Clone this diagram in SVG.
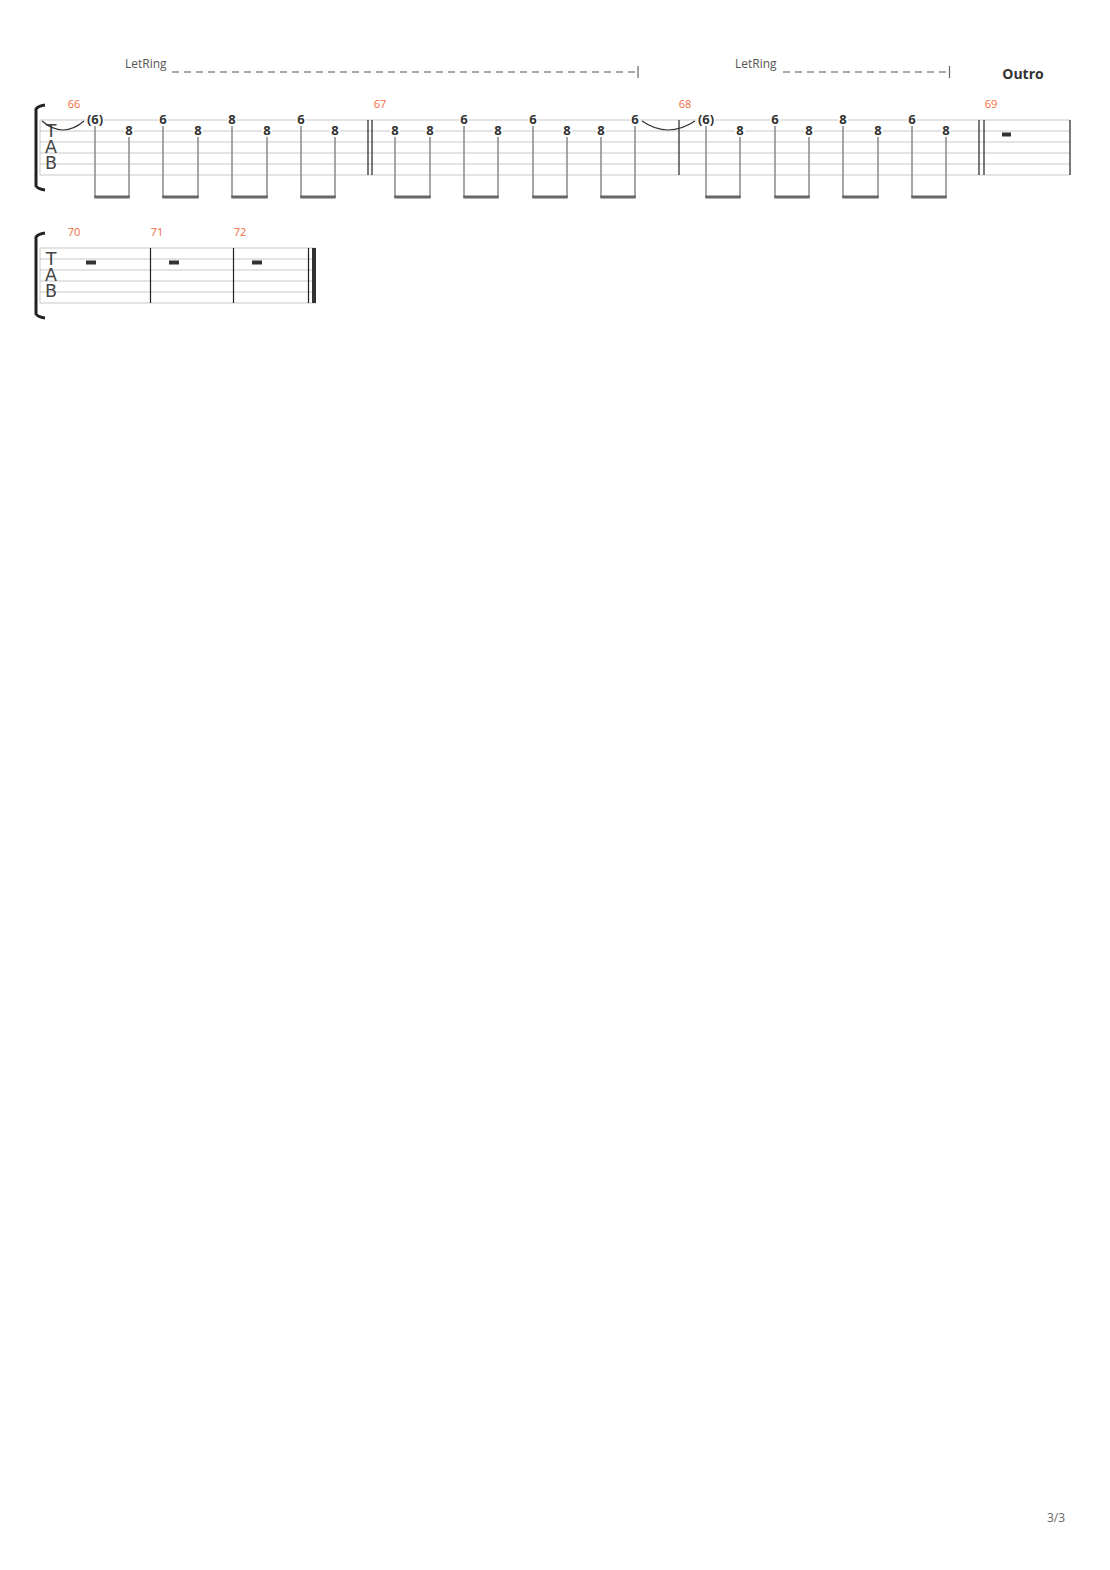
<svg xmlns="http://www.w3.org/2000/svg" width="1110" height="1570" viewBox="0 0 1110 1570">
<style>
.sl{stroke:#c8c8c8;stroke-width:1}
.bar{stroke:#222;stroke-width:1.2}
.stem{stroke:#8a8a8a;stroke-width:1.5}
.beam{fill:#666}
.n{font-family:"Open Sans","Noto Sans",sans-serif;font-weight:bold;font-size:13px;fill:#333;text-anchor:middle}
.nb{fill:#fff}
.mn{font-family:"Open Sans","Noto Sans",sans-serif;font-size:11px;fill:#f26b3a;text-anchor:middle}
.tab{font-family:"DejaVu Sans","Noto Sans",sans-serif;font-size:17.5px;fill:#444;text-anchor:middle}
.lr{font-family:"Open Sans","Noto Sans",sans-serif;font-size:12px;fill:#555}
.dash{stroke:#8c8c8c;stroke-width:1.6;stroke-dasharray:7 5;fill:none}
.tick{stroke:#666;stroke-width:1.2}
.tie{stroke:#333;stroke-width:1.2;fill:none}
.rest{fill:#333}
.brk{fill:none;stroke:#222;stroke-width:3}
</style>
<rect width="1110" height="1570" fill="#fff"/>

<g id="system1">
  <g id="staff1-lines">
    <line class="sl" x1="40" y1="120" x2="1070" y2="120"/>
    <line class="sl" x1="40" y1="131" x2="1070" y2="131"/>
    <line class="sl" x1="40" y1="142" x2="1070" y2="142"/>
    <line class="sl" x1="40" y1="153" x2="1070" y2="153"/>
    <line class="sl" x1="40" y1="164" x2="1070" y2="164"/>
    <line class="sl" x1="40" y1="175" x2="1070" y2="175"/>
    <line class="sl" x1="40" y1="120" x2="40" y2="175"/>
  </g>
  <path class="brk" d="M45,105 Q38,106 36,109 L36,186 Q38,189 45,190"/>
  <text class="tab"><tspan x="51" y="137">T</tspan><tspan x="51" y="153">A</tspan><tspan x="51" y="169">B</tspan></text>
  <line class="bar" x1="368" y1="120" x2="368" y2="175"/>
  <line class="bar" x1="372" y1="120" x2="372" y2="175"/>
  <line class="bar" x1="679" y1="120" x2="679" y2="175"/>
  <line class="bar" x1="979" y1="120" x2="979" y2="175"/>
  <line class="bar" x1="984" y1="120" x2="984" y2="175"/>
  <line class="bar" x1="1070" y1="120" x2="1070" y2="175"/>
  <text class="mn" x="74" y="108">66</text>
  <text class="mn" x="380" y="108">67</text>
  <text class="mn" x="685" y="108">68</text>
  <text class="mn" x="991" y="108">69</text>
  <text x="1023" y="79" font-family="'Open Sans','Noto Sans',sans-serif" font-weight="bold" font-size="14" fill="#333" text-anchor="middle">Outro</text>
  <text class="lr" x="125" y="68">LetRing</text>
  <line class="dash" x1="172" y1="72" x2="637" y2="72"/>
  <line class="tick" x1="638" y1="66" x2="638" y2="78"/>
  <text class="lr" x="735" y="68">LetRing</text>
  <line class="dash" x1="783" y1="72" x2="949" y2="72"/>
  <line class="tick" x1="949.5" y1="66" x2="949.5" y2="78"/>
  <rect class="rest" x="1002" y="132.5" width="9" height="4"/>
</g>

<g id="connectors">
  <path class="tie" d="M42,121 Q63,139 84,121"/>
  <path class="tie" d="M642,121 Q668,139 695,121"/>
  <g id="stems">
    <line class="stem" x1="95" y1="126" x2="95" y2="197"/>
    <line class="stem" x1="129" y1="137" x2="129" y2="197"/>
    <line class="stem" x1="163" y1="126" x2="163" y2="197"/>
    <line class="stem" x1="198" y1="137" x2="198" y2="197"/>
    <line class="stem" x1="232" y1="126" x2="232" y2="197"/>
    <line class="stem" x1="267" y1="137" x2="267" y2="197"/>
    <line class="stem" x1="301" y1="126" x2="301" y2="197"/>
    <line class="stem" x1="335" y1="137" x2="335" y2="197"/>
    <line class="stem" x1="395" y1="137" x2="395" y2="197"/>
    <line class="stem" x1="430" y1="137" x2="430" y2="197"/>
    <line class="stem" x1="464" y1="126" x2="464" y2="197"/>
    <line class="stem" x1="498" y1="137" x2="498" y2="197"/>
    <line class="stem" x1="533" y1="126" x2="533" y2="197"/>
    <line class="stem" x1="567" y1="137" x2="567" y2="197"/>
    <line class="stem" x1="601" y1="137" x2="601" y2="197"/>
    <line class="stem" x1="635" y1="126" x2="635" y2="197"/>
    <line class="stem" x1="706" y1="126" x2="706" y2="197"/>
    <line class="stem" x1="740" y1="137" x2="740" y2="197"/>
    <line class="stem" x1="775" y1="126" x2="775" y2="197"/>
    <line class="stem" x1="809" y1="137" x2="809" y2="197"/>
    <line class="stem" x1="843" y1="126" x2="843" y2="197"/>
    <line class="stem" x1="878" y1="137" x2="878" y2="197"/>
    <line class="stem" x1="912" y1="126" x2="912" y2="197"/>
    <line class="stem" x1="946" y1="137" x2="946" y2="197"/>
  </g>
  <g id="beams">
    <rect class="beam" x="94.25" y="195.5" width="35.5" height="3"/>
    <rect class="beam" x="162.25" y="195.5" width="36.5" height="3"/>
    <rect class="beam" x="231.25" y="195.5" width="36.5" height="3"/>
    <rect class="beam" x="300.25" y="195.5" width="35.5" height="3"/>
    <rect class="beam" x="394.25" y="195.5" width="36.5" height="3"/>
    <rect class="beam" x="463.25" y="195.5" width="35.5" height="3"/>
    <rect class="beam" x="532.25" y="195.5" width="35.5" height="3"/>
    <rect class="beam" x="600.25" y="195.5" width="35.5" height="3"/>
    <rect class="beam" x="705.25" y="195.5" width="35.5" height="3"/>
    <rect class="beam" x="774.25" y="195.5" width="35.5" height="3"/>
    <rect class="beam" x="842.25" y="195.5" width="36.5" height="3"/>
    <rect class="beam" x="911.25" y="195.5" width="35.5" height="3"/>
  </g>
</g>

<g id="notes">
  <g id="m66">
    <rect class="nb" x="86" y="114" width="18" height="11"/><text class="n" x="95" y="123.5">(6)</text>
    <rect class="nb" x="124" y="125" width="10" height="11"/><text class="n" x="129" y="134.5">8</text>
    <rect class="nb" x="158" y="114" width="10" height="11"/><text class="n" x="163" y="123.5">6</text>
    <rect class="nb" x="193" y="125" width="10" height="11"/><text class="n" x="198" y="134.5">8</text>
    <rect class="nb" x="227" y="114" width="10" height="11"/><text class="n" x="232" y="123.5">8</text>
    <rect class="nb" x="262" y="125" width="10" height="11"/><text class="n" x="267" y="134.5">8</text>
    <rect class="nb" x="296" y="114" width="10" height="11"/><text class="n" x="301" y="123.5">6</text>
    <rect class="nb" x="330" y="125" width="10" height="11"/><text class="n" x="335" y="134.5">8</text>
  </g>
  <g id="m67">
    <rect class="nb" x="390" y="125" width="10" height="11"/><text class="n" x="395" y="134.5">8</text>
    <rect class="nb" x="425" y="125" width="10" height="11"/><text class="n" x="430" y="134.5">8</text>
    <rect class="nb" x="459" y="114" width="10" height="11"/><text class="n" x="464" y="123.5">6</text>
    <rect class="nb" x="493" y="125" width="10" height="11"/><text class="n" x="498" y="134.5">8</text>
    <rect class="nb" x="528" y="114" width="10" height="11"/><text class="n" x="533" y="123.5">6</text>
    <rect class="nb" x="562" y="125" width="10" height="11"/><text class="n" x="567" y="134.5">8</text>
    <rect class="nb" x="596" y="125" width="10" height="11"/><text class="n" x="601" y="134.5">8</text>
    <rect class="nb" x="630" y="114" width="10" height="11"/><text class="n" x="635" y="123.5">6</text>
  </g>
  <g id="m68">
    <rect class="nb" x="697" y="114" width="18" height="11"/><text class="n" x="706" y="123.5">(6)</text>
    <rect class="nb" x="735" y="125" width="10" height="11"/><text class="n" x="740" y="134.5">8</text>
    <rect class="nb" x="770" y="114" width="10" height="11"/><text class="n" x="775" y="123.5">6</text>
    <rect class="nb" x="804" y="125" width="10" height="11"/><text class="n" x="809" y="134.5">8</text>
    <rect class="nb" x="838" y="114" width="10" height="11"/><text class="n" x="843" y="123.5">8</text>
    <rect class="nb" x="873" y="125" width="10" height="11"/><text class="n" x="878" y="134.5">8</text>
    <rect class="nb" x="907" y="114" width="10" height="11"/><text class="n" x="912" y="123.5">6</text>
    <rect class="nb" x="941" y="125" width="10" height="11"/><text class="n" x="946" y="134.5">8</text>
  </g>
</g>

<g id="system2">
  <g id="staff2-lines">
    <line class="sl" x1="40" y1="248" x2="316" y2="248"/>
    <line class="sl" x1="40" y1="259" x2="316" y2="259"/>
    <line class="sl" x1="40" y1="270" x2="316" y2="270"/>
    <line class="sl" x1="40" y1="281" x2="316" y2="281"/>
    <line class="sl" x1="40" y1="292" x2="316" y2="292"/>
    <line class="sl" x1="40" y1="303" x2="316" y2="303"/>
    <line class="sl" x1="40" y1="248" x2="40" y2="303"/>
  </g>
  <path class="brk" d="M45,233 Q38,234 36,237 L36,314 Q38,317 45,318"/>
  <text class="tab"><tspan x="51" y="265">T</tspan><tspan x="51" y="281">A</tspan><tspan x="51" y="297">B</tspan></text>
  <line class="bar" x1="150.5" y1="248" x2="150.5" y2="303"/>
  <line class="bar" x1="233.5" y1="248" x2="233.5" y2="303"/>
  <line class="bar" x1="308.5" y1="248" x2="308.5" y2="303"/>
  <rect x="312" y="248" width="4" height="55" fill="#333"/>
  <text class="mn" x="74" y="236">70</text>
  <text class="mn" x="157" y="236">71</text>
  <text class="mn" x="240" y="236">72</text>
  <rect class="rest" x="86" y="260.5" width="10" height="4"/>
  <rect class="rest" x="169" y="260.5" width="10" height="4"/>
  <rect class="rest" x="252" y="260.5" width="10" height="4"/>
</g>

<text x="1056" y="1522" font-family="'Open Sans','Noto Sans',sans-serif" font-size="12" fill="#666" text-anchor="middle">3/3</text>
</svg>
